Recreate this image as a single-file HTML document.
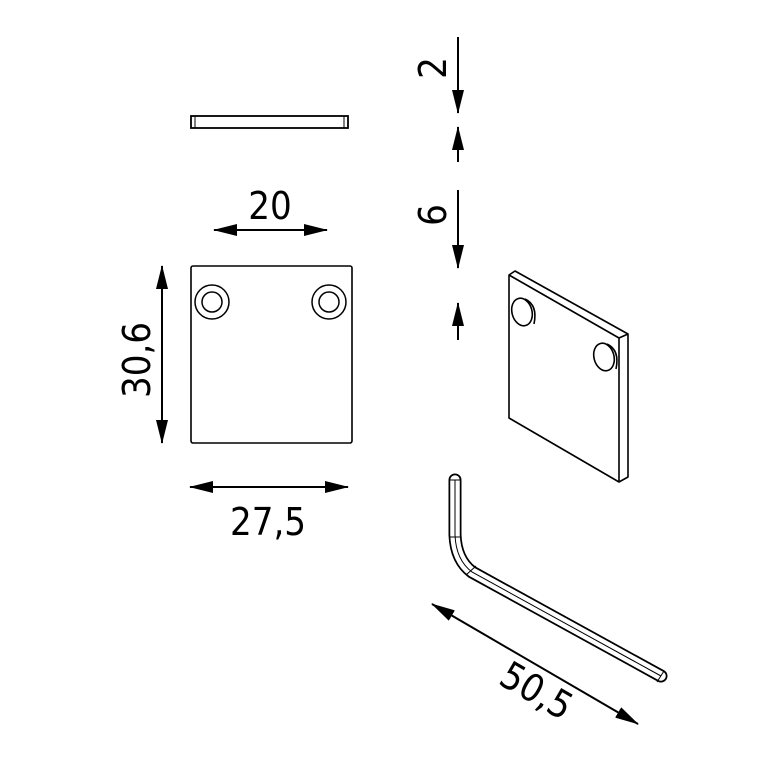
<!DOCTYPE html>
<html><head><style>html,body{margin:0;padding:0;background:#fff}svg{display:block}</style></head>
<body>
<svg width="767" height="767" viewBox="0 0 767 767" xmlns="http://www.w3.org/2000/svg" font-family="'DejaVu Sans Condensed','Liberation Sans',sans-serif" fill="none" stroke="#000">
<defs>
<marker id="a" viewBox="0 0 24 12" refX="23" refY="6" markerWidth="24" markerHeight="12" markerUnits="userSpaceOnUse" orient="auto-start-reverse"><path d="M0 0 L24 6 L0 12 Z" fill="#000" stroke="none"/></marker>
</defs>
<g stroke-width="2">
<rect x="191" y="116" width="157" height="12" stroke-width="1.8"/>
<line x1="195" y1="116" x2="195" y2="128" stroke-width="1"/>
<line x1="344" y1="116" x2="344" y2="128" stroke-width="1"/>
<line x1="214" y1="230" x2="327" y2="230" marker-start="url(#a)" marker-end="url(#a)"/>
<rect x="191" y="266" width="161" height="177" rx="2" stroke-width="1.6"/>
<circle cx="212" cy="302" r="17" stroke-width="1.5"/><circle cx="212" cy="302" r="10" stroke-width="1.5"/>
<circle cx="329" cy="302" r="17" stroke-width="1.5"/><circle cx="329" cy="302" r="10" stroke-width="1.5"/>
<line x1="162" y1="266" x2="162" y2="443" marker-start="url(#a)" marker-end="url(#a)"/>
<line x1="190" y1="487" x2="348" y2="487" marker-start="url(#a)" marker-end="url(#a)"/>
<line x1="458" y1="37" x2="458" y2="113" marker-end="url(#a)"/>
<line x1="458" y1="162" x2="458" y2="127" marker-end="url(#a)"/>
<line x1="458" y1="190" x2="458" y2="268" marker-end="url(#a)"/>
<line x1="458" y1="340" x2="458" y2="303" marker-end="url(#a)"/>
<g stroke-width="1.6" stroke-linejoin="round">
<path d="M509 275 L619 338 L619 482 L509 418 Z"/>
<path d="M509 275 L515 271 L628 334 L619 338 M628 334 L628 477 L619 482"/>
<ellipse cx="522" cy="312" rx="10" ry="14" transform="rotate(-15 522 312)"/>
<path d="M525 299 Q538 305 534 324"/>
<ellipse cx="604" cy="357" rx="10" ry="14" transform="rotate(-15 604 357)"/>
<path d="M607 344 Q620 350 616 369"/>
</g>
<path d="M455 480 L455 535 Q456 560 472 572 L661 676" stroke-width="13" stroke-linejoin="round" stroke-linecap="round"/>
<path d="M455 480 L455 535 Q456 560 472 572 L661 676" stroke="#fff" stroke-width="9.5" stroke-linejoin="round" stroke-linecap="round"/>
<path d="M455 480 L455 535 Q456 560 472 572 L661 676" stroke-width="1"/>
<line x1="449" y1="480" x2="461" y2="480" stroke-width="1"/>
<line x1="449" y1="537" x2="461" y2="537" stroke-width="1"/>
<line x1="466" y1="575" x2="476" y2="566" stroke-width="1"/>
<line x1="657" y1="682" x2="664" y2="671" stroke-width="1"/>
<line x1="432" y1="604" x2="638" y2="724" marker-start="url(#a)" marker-end="url(#a)"/>
</g>
<g fill="#000" stroke="none" font-size="38">
<text x="270" y="219" text-anchor="middle">20</text>
<text x="268" y="535" text-anchor="middle">27,5</text>
<text transform="translate(150 360) rotate(-90)" text-anchor="middle">30,6</text>
<text transform="translate(446 68) rotate(-90)" text-anchor="middle">2</text>
<text transform="translate(446 215) rotate(-90)" text-anchor="middle">6</text>
<text transform="translate(530 702) rotate(30)" text-anchor="middle">50,5</text>
</g>
</svg>
</body></html>
